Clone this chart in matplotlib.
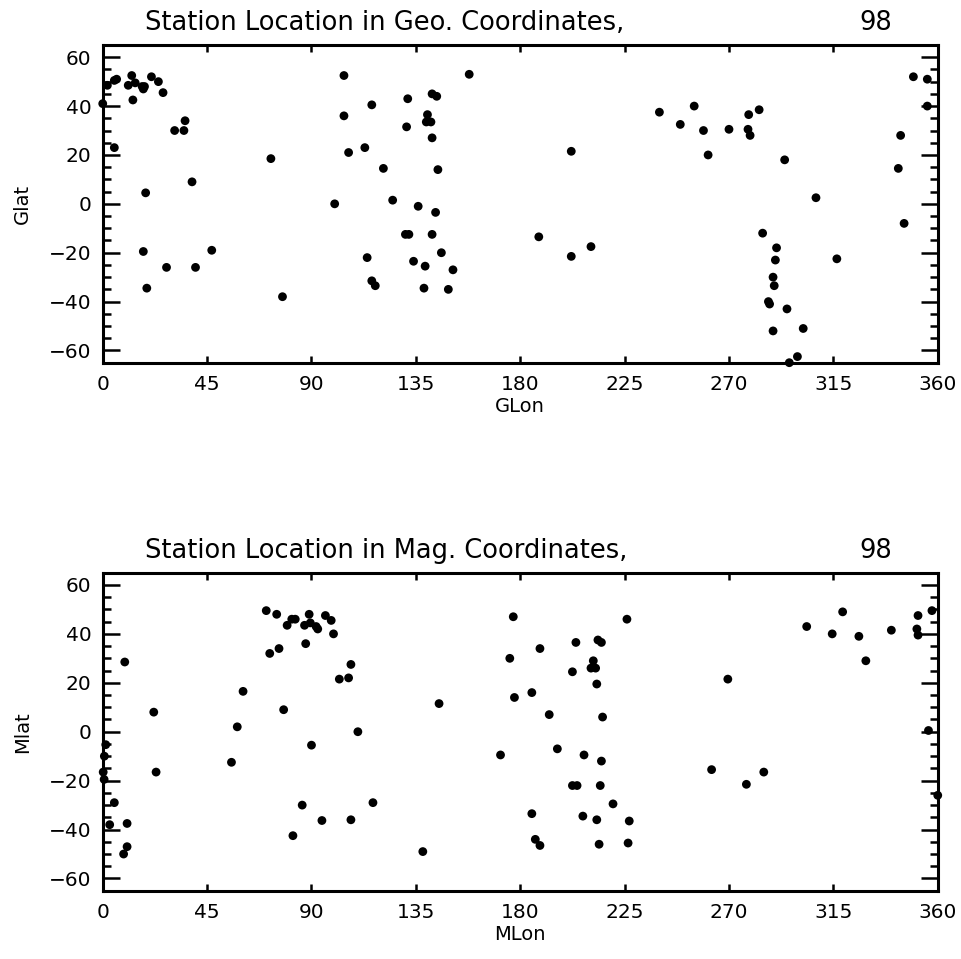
import matplotlib
matplotlib.use("Agg")
import matplotlib.pyplot as plt
from matplotlib.ticker import MultipleLocator

# Geographic coordinates of stations
geo_lon = [0, 2, 5, 6, 11, 12.5, 14, 13, 17, 17.5, 18, 21, 24, 26, 5, 35.5, 31, 35, 72.5, 38.5,
           18.5, 17.5, 47, 27.5, 40, 19, 77.5,
           104, 158, 116, 104, 131.5, 142, 144, 140, 139.5, 141.5, 131, 142, 113, 106, 121, 144.5,
           100, 125, 136, 143.5, 130.5, 132, 142, 146, 114, 134, 139, 151, 116, 117.5, 138.5, 149,
           240, 255, 249, 259, 270, 278.5, 278.2, 279.1, 261, 202, 188, 202, 210.5,
           283, 294, 307.5, 284.5, 290.5, 290, 289, 289.5, 316.5, 287, 287.5, 295, 289, 302, 299.5,
           296, 344, 343, 345.5, 349.5, 355.5, 355.5]
geo_lat = [41, 48.5, 50.5, 51, 48.5, 52.5, 49.5, 42.5, 48, 47, 48, 52, 50, 45.5, 23, 34, 30, 30, 18.5, 9,
           4.5, -19.5, -19, -26, -26, -34.5, -38,
           52.5, 53, 40.5, 36, 43, 45, 44, 36.5, 33.5, 33.5, 31.5, 27, 23, 21, 14.5, 14,
           0, 1.5, -1, -3.5, -12.5, -12.5, -12.5, -20, -22, -23.5, -25.5, -27, -31.5, -33.5, -34.5, -35,
           37.5, 40, 32.5, 30, 30.5, 36.5, 30.5, 28, 20, 21.5, -13.5, -21.5, -17.5,
           38.5, 18, 2.5, -12, -18, -23, -30, -33.5, -22.5, -40, -41, -43, -52, -51, -62.5,
           -65, 28, 14.5, -8, 52, 51, 40]

# Magnetic coordinates of stations
mag_lon = [9.5, 22, 23, 1.3, 0.7, 0.2, 0.6, 5, 3, 10.5, 10.5, 9,
           70.5, 75, 79.5, 81.5, 83, 89, 87, 89.5, 92, 92.7, 96, 98.5, 99.5,
           72, 76, 87.5, 60.5, 78, 58, 90, 55.5, 86, 82, 94.5,
           107, 106, 102, 110, 116.5, 107, 138, 145, 177, 175.5, 177.5, 171.5,
           226, 188.5, 204, 213.5, 215, 211.5, 210.5, 212.5, 202.5, 213, 185, 192.5, 215.5,
           196, 207.5, 215, 202.5, 204.5, 214.5, 220, 185, 207, 213, 227, 186.5, 188.5, 214, 226.5,
           269.5, 262.5, 277.5, 285,
           303.5, 314.5, 319, 326, 329, 340, 351, 351.5, 351.5, 357.5, 356, 360]
mag_lat = [28.5, 8, -16.5, -5.3, -10, -16.5, -19.5, -29, -38, -37.5, -47, -50,
           49.5, 48, 43.5, 46, 46, 48, 43.5, 44.5, 43, 42, 47.5, 45.5, 40,
           32, 34, 36, 16.5, 9, 2, -5.5, -12.5, -30, -42.5, -36.3,
           27.5, 22, 21.5, 0, -29, -36, -49, 11.5, 47, 30, 14, -9.5,
           46, 34, 36.5, 37.5, 36.5, 29, 26, 26, 24.5, 19.5, 16, 7, 6,
           -7, -9.5, -12, -22, -22, -22, -29.5, -33.5, -34.5, -36, -36.5, -44, -46.5, -46, -45.5,
           21.5, -15.5, -21.5, -16.5,
           43, 40, 49, 39, 29, 41.5, 42, 39.5, 47.5, 49.5, 0.5, -26]

xticks = [0, 45, 90, 135, 180, 225, 270, 315, 360]
yticks = [-60, -40, -20, 0, 20, 40, 60]

panels = [
    (geo_lon, geo_lat, "Station Location in Geo. Coordinates,", "GLon", "Glat"),
    (mag_lon, mag_lat, "Station Location in Mag. Coordinates,", "MLon", "Mlat"),
]
year_label = "98"

fig = plt.figure(figsize=(9.61, 9.59), dpi=100)
ax_rects = [[0.1069, 0.6218, 0.8689, 0.3313], [0.1069, 0.0712, 0.8689, 0.3316]]

for rect, (lon, lat, title, xl, yl) in zip(ax_rects, panels):
    ax = fig.add_axes(rect)
    ax.scatter(lon, lat, s=40, color="black", edgecolors="none", clip_on=False, zorder=3)
    ax.set_xlim(0, 360)
    ax.set_ylim(-65, 65)
    ax.set_xticks(xticks)
    ax.set_yticks(yticks)
    ax.yaxis.set_minor_locator(MultipleLocator(5))
    for sp in ax.spines.values():
        sp.set_linewidth(2.2)
    ax.tick_params(axis="x", which="major", direction="in", length=5, width=1.8,
                   top=True, bottom=True, labelsize=14.5, pad=9)
    ax.tick_params(axis="y", which="major", direction="in", length=12, width=1.8,
                   left=True, right=True, labelsize=14.5, pad=8)
    ax.tick_params(axis="y", which="minor", direction="in", length=6, width=1.8,
                   left=True, right=True)
    ax.set_xlabel(xl, fontsize=14, labelpad=2)
    ax.set_ylabel(yl, fontsize=14, labelpad=12)
    ax.text(0.0507, 1.047, title, transform=ax.transAxes, fontsize=18.5,
            ha="left", va="baseline")
    ax.text(0.906, 1.047, year_label, transform=ax.transAxes, fontsize=18.5,
            ha="left", va="baseline")

fig.savefig("out.png", dpi=100)
